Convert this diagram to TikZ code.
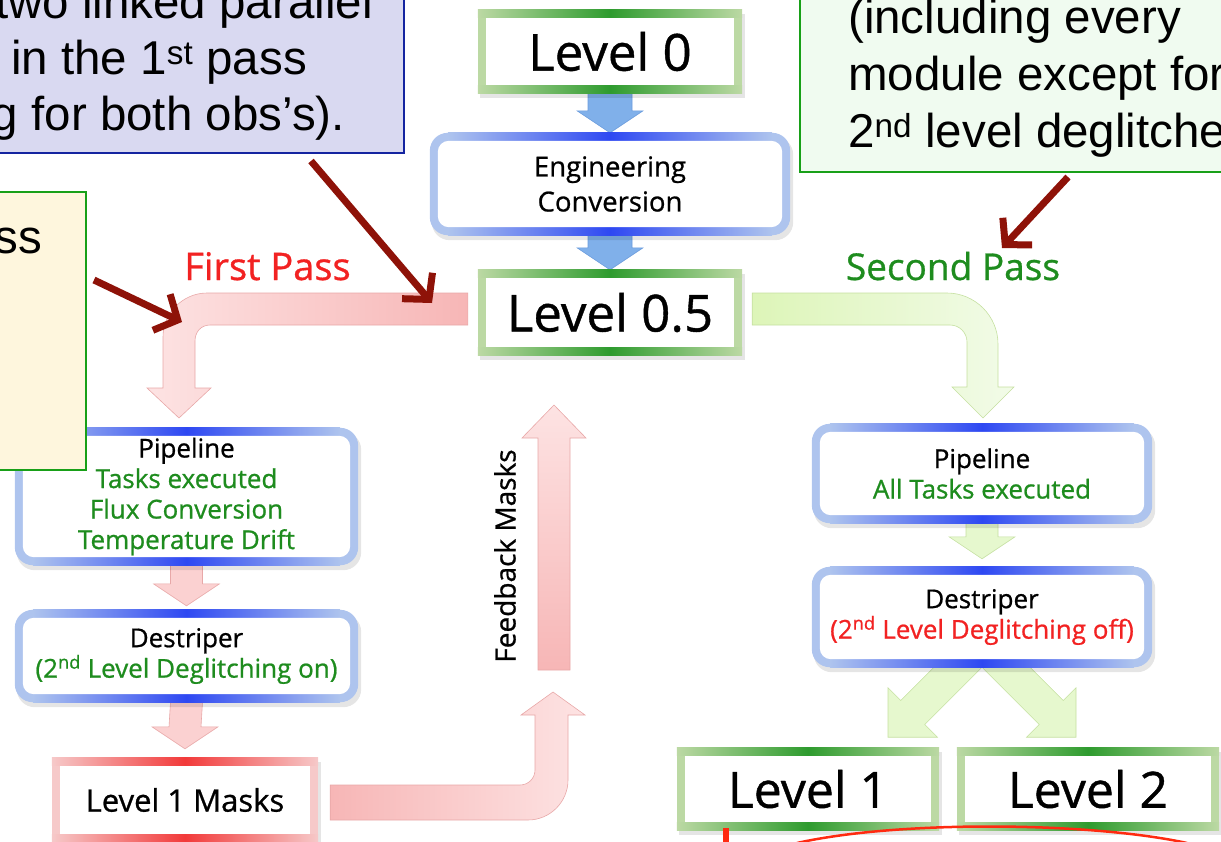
\documentclass[tikz,border=0pt]{standalone}
\usepackage{fontspec}
\setmainfont{Open Sans}[UprightFeatures={FakeBold=0.8}]
\newfontfamily\arial{Liberation Sans}
\usetikzlibrary{calc,arrows.meta}
\definecolor{lgreen}{HTML}{BCD9A4}
\definecolor{dgreen}{HTML}{2E9B2E}
\definecolor{lblue}{HTML}{AEC4EE}
\definecolor{dblue}{HTML}{2E48F2}
\definecolor{lred}{HTML}{F6C9C9}
\definecolor{dred}{HTML}{F23A3A}
\definecolor{txtgreen}{HTML}{1E8C1E}
\definecolor{txtred}{HTML}{F22222}
\definecolor{annotred}{HTML}{8E1208}
\definecolor{markred}{HTML}{FF2A10}
\definecolor{arrblue}{HTML}{80B0EA}
\definecolor{arrblueD}{HTML}{6A9BDC}
\definecolor{fpL}{HTML}{FDE3E3}
\definecolor{fpR}{HTML}{F7B6B6}
\definecolor{fpD}{HTML}{E8A8A8}
\definecolor{spL}{HTML}{DDF5B8}
\definecolor{spR}{HTML}{F2FBE8}
\definecolor{spD}{HTML}{C5E0A0}
\definecolor{cbfill}{HTML}{D9D9F1}
\definecolor{cbdraw}{HTML}{1424A0}
\definecolor{cgfill}{HTML}{F0FBF0}
\definecolor{cgdraw}{HTML}{18A018}
\definecolor{cyfill}{HTML}{FEF6DD}
\pgfdeclarelayer{arrowlayer}
\pgfdeclarelayer{framelayer}
\pgfsetlayers{arrowlayer,framelayer,main}
\newcommand{\setfs}[2]{\fontsize{#1}{#2}\selectfont}
\newcommand{\levelframe}[3]{%
 \fill[black,opacity=0.10] ($(#1.north west)+(2,4)$) rectangle ($(#1.south east)+(3,5)$);
 \fill[#2] (#1.north west) rectangle (#1.south east);
 \shade[left color=#2,right color=#2,middle color=#3] (#1.north west) rectangle ($(#1.north east)+(0,8)$);
 \shade[left color=#2,right color=#2,middle color=#3] ($(#1.south west)+(0,-8)$) rectangle (#1.south east);
 \fill[white] ($(#1.north west)+(8,8)$) rectangle ($(#1.south east)+(-8,-8)$);}
\newcommand{\roundframe}[3]{%
 \fill[black,opacity=0.10,rounded corners=18pt] ($(#1.north west)+(2,4)$) rectangle ($(#1.south east)+(3,5)$);
 \fill[#2,rounded corners=18pt] (#1.north west) rectangle (#1.south east);
 \shade[left color=#2,right color=#2,middle color=#3] ($(#1.north west)+(18,0)$) rectangle ($(#1.north east)+(-18,8)$);
 \shade[left color=#2,right color=#2,middle color=#3] ($(#1.south west)+(18,-8)$) rectangle ($(#1.south east)+(-18,0)$);
 \fill[white,rounded corners=11pt] ($(#1.north west)+(8,8)$) rectangle ($(#1.south east)+(-8,-8)$);}
\newcommand{\blockdown}[6]{%
 \path[#6] ($(#1)+(-#3,0)$) -- ($(#2)+(-#3,-#5)$) -- ($(#2)+(-#4,-#5)$) -- (#2) -- ($(#2)+(#4,-#5)$) -- ($(#2)+(#3,-#5)$) -- ($(#1)+(#3,0)$) -- cycle;}
\begin{document}
\begin{tikzpicture}[x=1pt,y=-1pt,
 lvlbox/.style={inner sep=0pt, minimum width=264pt, minimum height=84pt, font=\setfs{51}{60}},
 procbox/.style={inner sep=0pt, align=center, minimum width=343pt, font=\setfs{26}{30.5}},
 callout/.style={draw, line width=2pt, inner sep=0pt},
 calltext/.style={font=\arial\setfs{47.5}{56}, inner sep=0pt},
 annot/.style={line width=7pt, color=annotred, -{Straight Barb[length=18pt,width=40pt]}},
 bluearrow/.style={fill=arrblue, draw=arrblueD, line width=0.6pt},
 redarrow/.style={fill=fpL!60!fpR, draw=fpD, line width=0.6pt},
 greenarrow/.style={fill=spL!55!spR, draw=spD, line width=0.6pt},
 firstpass/.style={left color=fpL, right color=fpR, draw=fpD, line width=0.6pt},
 secondpass/.style={left color=spL, right color=spR, draw=spD, line width=0.6pt},
 fbside/.style={left color=fpR, right color=fpL, draw=fpD, line width=0.6pt},
 fbup/.style={top color=fpL, bottom color=fpR, draw=fpD, line width=0.6pt},
]
\useasboundingbox (0,0) rectangle (1221,841);

% ---- main boxes
\node[lvlbox, minimum height=83pt] (lvl0) at (610,51.5) {Level 0};
\node[procbox, minimum width=360pt, minimum height=102pt, font=\setfs{27.5}{35}] (eng) at (610,184) {Engineering\\Conversion};
\node[lvlbox, minimum height=85pt] (lvl05) at (610,312.5) {Level 0.5};
\node[procbox, minimum height=137pt] (pipeL) at (186.5,496.5) {Pipeline\\\textcolor{txtgreen}{Tasks executed}\\\textcolor{txtgreen}{Flux Conversion}\\\textcolor{txtgreen}{Temperature Drift}};
\node[procbox, minimum height=92pt] (destL) at (186.5,656) {Destriper\\\textcolor{txtgreen}{(2\textsuperscript{nd} Level Deglitching on)}};
\node[lvlbox, minimum width=266pt, font=\setfs{31}{36}] (masks) at (185,800) {Level 1 Masks};
\node[procbox, minimum width=340pt, minimum height=99pt] (pipeR) at (982,473.5) {Pipeline\\\textcolor{txtgreen}{All Tasks executed}};
\node[procbox, minimum width=340pt, minimum height=100pt] (destR) at (982,617) {Destriper\\\textcolor{txtred}{(2\textsuperscript{nd} Level Deglitching off)}};
\node[lvlbox, minimum width=262pt, minimum height=82pt, font=\setfs{50}{60}] (lvl1) at (808,789) {Level 1};
\node[lvlbox, minimum width=262pt, minimum height=82pt, font=\setfs{50}{60}] (lvl2) at (1088,789) {Level 2};

% ---- labels
\node[anchor=base, text=txtred, font=\setfs{38}{44}, inner sep=0pt] (fptext) at (267.5,280) {First Pass};
\node[anchor=base, text=txtgreen, font=\setfs{37}{44}, inner sep=0pt] (sptext) at (953,280) {Second Pass};
\node[rotate=90, font=\setfs{28}{32}, inner sep=0pt] (fbtext) at (505,556) {Feedback Masks};

% ---- frames
\begin{pgfonlayer}{framelayer}
 \levelframe{lvl0}{lgreen}{dgreen}
 \levelframe{lvl05}{lgreen}{dgreen}
 \levelframe{lvl1}{lgreen}{dgreen}
 \levelframe{lvl2}{lgreen}{dgreen}
 \levelframe{masks}{lred}{dred}
 \roundframe{eng}{lblue}{dblue}
 \roundframe{pipeL}{lblue}{dblue}
 \roundframe{destL}{lblue}{dblue}
 \roundframe{pipeR}{lblue}{dblue}
 \roundframe{destR}{lblue}{dblue}
\end{pgfonlayer}

% ---- block arrows
\coordinate (tipDL) at ($(destL.north)+(0,-4)$);
\coordinate (tipMK) at ($(masks.north)+(0,-9)$);
\coordinate (tipDR) at ($(destR.north)+(0,-8)$);
\coordinate (fbtail) at (554,670);
\coordinate (fbtip) at (554,405);
\begin{pgfonlayer}{arrowlayer}
 \blockdown{lvl0.south}{eng.north}{22}{33}{22}{bluearrow}
 \blockdown{eng.south}{lvl05.north}{22}{33}{22}{bluearrow}
 \blockdown{pipeL.south}{tipDL}{16}{33}{22}{redarrow}
 \blockdown{destL.south}{tipMK}{16}{33}{22}{redarrow}
 \blockdown{pipeR.south}{tipDR}{16}{33}{22}{greenarrow}
 % first pass
 \path[firstpass] ($(lvl05.west)+(-10,-19.5)$) -- (207,293) .. controls (183,293) and (163,313) .. (163,337) -- (163,388) -- (147,388) -- (179,418) -- (211,388) -- (195,388) -- (195,341) .. controls (195,332) and (201,325) .. (210,325) -- ($(lvl05.west)+(-10,12.5)$) -- cycle;
 % second pass
 \path[secondpass] ($(lvl05.east)+(10,-19.5)$) -- (947,293) .. controls (975,293) and (998,316) .. (998,344) -- (998,387) -- (1014,387) -- (983,418) -- (952,387) -- (967,387) -- (967,342) .. controls (967,332.6) and (959.4,325) .. (950,325) -- ($(lvl05.east)+(10,12.5)$) -- cycle;
 % feedback from masks
 \path[fbside] ($(masks.east)+(12,-15)$) -- (520,785) .. controls (528.3,785) and (535,778.3) .. (535,770) -- (535,715) -- (521,715) -- (553,692) -- (585,715) -- (568,715) -- (568,780) .. controls (568,802) and (550,820) .. (528,820) -- ($(masks.east)+(12,20)$) -- cycle;
 % feedback up
 \path[fbup] ($(fbtail)+(-16,0)$) -- ($(fbtip)+(-16,33)$) -- ($(fbtip)+(-32,33)$) -- (fbtip) -- ($(fbtip)+(32,33)$) -- ($(fbtip)+(16,33)$) -- ($(fbtail)+(16,0)$) -- cycle;
 % diagonal arrows to Level 1 / Level 2
 \path[greenarrow] ($(destR.south)+(5,-5)$) -- ($(destR.south)+(-57.3,57.3)$) -- ($(destR.south)+(-44.6,70)$) -- ($(destR.south)+(-94,70)$) -- ($(destR.south)+(-94,20.6)$) -- ($(destR.south)+(-81.3,33.3)$) -- ($(destR.south)+(-19,-29)$) -- cycle;
 \path[greenarrow] ($(destR.south)+(-5,-5)$) -- ($(destR.south)+(57.3,57.3)$) -- ($(destR.south)+(44.6,70)$) -- ($(destR.south)+(94,70)$) -- ($(destR.south)+(94,20.6)$) -- ($(destR.south)+(81.3,33.3)$) -- ($(destR.south)+(19,-29)$) -- cycle;
\end{pgfonlayer}

% ---- callouts
\node[callout, fill=cbfill, draw=cbdraw, minimum width=420pt, minimum height=170pt] (cb) at (194,68) {};
\node[callout, fill=cgfill, draw=cgdraw, minimum width=440pt, minimum height=192pt] (cg) at (1020,76) {};
\node[callout, fill=cyfill, draw=cgdraw, minimum width=106pt, minimum height=278pt] (cy) at (33,331) {};
\node[calltext, anchor=base east] (cb1) at (373,18) {two linked parallel};
\node[calltext, anchor=base east] (cb2) at (307,74) {in the 1\textsuperscript{st} pass};
\node[calltext, anchor=base east] (cb3) at (345,130) {g for both obs’s).};
\node[calltext, anchor=base west] (cg1) at (848,33) {(including every};
\node[calltext, anchor=base west] (cg2) at (848,90) {module except for};
\node[calltext, anchor=base west] (cg3) at (848,147) {2\textsuperscript{nd} level deglitche};
\node[calltext, anchor=base east] (cy1) at (42,253) {ss};

% ---- annotation arrows
\coordinate (a1tip) at (432,303);
\coordinate (a2tip) at (182,322);
\coordinate (a3tip) at (1002,248);
\draw[annot] ($(cb.south east)+(-94,7)$) -- (a1tip);
\draw[annot] ($(cy.east)+(7,-51)$) -- (a2tip);
\draw[annot] ($(cg.south)+(48,4)$) -- (a3tip);

% ---- red marks at the bottom
\draw[line width=6pt, markred] (726,828) -- (726,845);
\draw[line width=2.5pt, markred] (797,843) .. controls (900,820) and (1090,822) .. (1187,843);
\end{tikzpicture}
\end{document}
